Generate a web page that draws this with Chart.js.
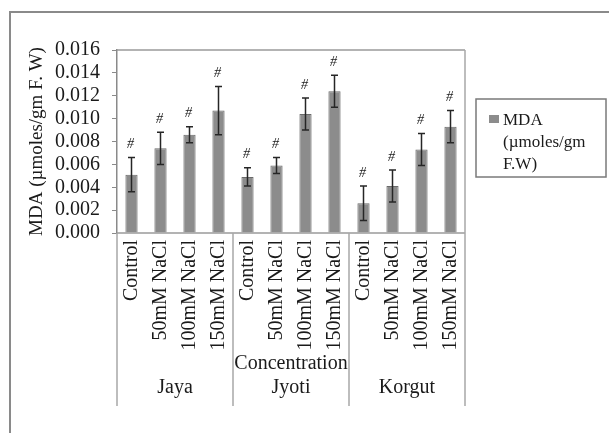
<!DOCTYPE html>
<html>
<head>
<meta charset="utf-8">
<script src="https://cdn.jsdelivr.net/npm/chart.js@4"></script>
<style>
  html, body { margin: 0; padding: 0; background: #fff; }
  #wrap { width: 609px; height: 433px; }
</style>
</head>
<body>
<div id="wrap"><canvas id="mda" width="609" height="433"></canvas></div>
<script>
// varieties and treatments
var groups = ['Jaya', 'Jyoti', 'Korgut'];
var treatments = ['Control', '50mM NaCl', '100mM NaCl', '150mM NaCl'];

// MDA content and error, in group order
var mda = [0.0051, 0.0074, 0.0086, 0.0107,
           0.0049, 0.0059, 0.0104, 0.0124,
           0.0026, 0.0041, 0.0073, 0.0093];
var mdaErr = [0.0015, 0.0014, 0.0007, 0.0021,
              0.0008, 0.0007, 0.0014, 0.0014,
              0.0015, 0.0014, 0.0014, 0.0014];

var yTicks = ['0.000', '0.002', '0.004', '0.006', '0.008', '0.010', '0.012', '0.014', '0.016'];
var legendLines = ['MDA', '(\u00b5moles/gm', 'F.W)'];

var labels = [];
for (const g of groups) {
    for (const t of treatments) labels.push(t);
}

const serif = '"Liberation Serif", "Times New Roman", serif';

const extras = {
    id: 'extras',
    beforeDraw(chart) {
        const c = chart.ctx;
        c.save();
        c.strokeStyle = '#8a8a8a';
        c.lineWidth = 2;
        c.strokeRect(10, 12, 700, 500);
        c.restore();
    },
    afterDatasetsDraw(chart) {
        const c = chart.ctx;
        const y = chart.scales.y;
        const bars = chart.getDatasetMeta(0).data;
        c.save();
        c.strokeStyle = '#262626';
        c.lineWidth = 1.5;
        c.fillStyle = '#222';
        c.font = 'italic 14px ' + serif;
        c.textAlign = 'center';
        c.textBaseline = 'bottom';
        bars.forEach(function(bar, i) {
            const top = y.getPixelForValue(mda[i] + mdaErr[i]);
            const bot = y.getPixelForValue(mda[i] - mdaErr[i]);
            c.beginPath();
            c.moveTo(bar.x, top); c.lineTo(bar.x, bot);
            c.moveTo(bar.x - 3.5, top); c.lineTo(bar.x + 3.5, top);
            c.moveTo(bar.x - 3.5, bot); c.lineTo(bar.x + 3.5, bot);
            c.stroke();
            c.fillText('#', bar.x - 1, top - 6);
        });
        c.restore();
    },
    afterDraw(chart) {
        const c = chart.ctx;
        const a = chart.chartArea;
        const x = chart.scales.x;
        c.save();
        // plot frame
        c.strokeStyle = '#9a9a9a';
        c.lineWidth = 1.5;
        c.beginPath();
        c.moveTo(a.left, a.top); c.lineTo(a.right, a.top);
        c.moveTo(a.left, a.bottom); c.lineTo(a.right, a.bottom);
        c.stroke();
        // group separators running down through the labels
        const n = treatments.length;
        const seps = [a.left];
        for (let g = 1; g < groups.length; g++) {
            seps.push((x.getPixelForTick(g * n - 1) + x.getPixelForTick(g * n)) / 2);
        }
        seps.push(a.right);
        c.strokeStyle = '#a8a8a8';
        c.beginPath();
        seps.forEach(function(sx, i) {
            c.moveTo(sx, i === seps.length - 1 ? a.top : a.bottom);
            c.lineTo(sx, 406);
        });
        c.stroke();
        // axis title and variety names
        c.fillStyle = '#1a1a1a';
        c.textAlign = 'center';
        c.textBaseline = 'middle';
        c.font = '20px ' + serif;
        c.fillText('Concentration', (a.left + a.right) / 2, 364);
        groups.forEach(function(name, g) {
            const cx = (x.getPixelForTick(g * n) + x.getPixelForTick(g * n + n - 1)) / 2;
            c.fillText(name, cx, 388);
        });
        // legend box
        c.strokeStyle = '#7a7a7a';
        c.lineWidth = 1.5;
        c.strokeRect(476, 99, 130, 78);
        c.fillStyle = '#8c8c8c';
        c.fillRect(489, 115, 10, 8);
        c.fillStyle = '#1a1a1a';
        c.textAlign = 'left';
        c.textBaseline = 'alphabetic';
        c.font = '17px ' + serif;
        legendLines.forEach(function(t, i) {
            c.fillText(t, 503, 125 + i * 22);
        });
        c.restore();
    }
};

new Chart(document.getElementById('mda'), {
    type: 'bar',
    data: {
        labels: labels,
        datasets: [{
            label: 'MDA (\u00b5moles/gm F.W)',
            data: mda,
            backgroundColor: '#8c8c8c',
            borderColor: '#6a6a6a',
            borderWidth: 1,
            barPercentage: 0.42,
            categoryPercentage: 1
        }]
    },
    options: {
        responsive: false,
        animation: false,
        layout: { padding: { left: 0, top: 50, right: 144, bottom: 0 } },
        scales: {
            y: {
                min: 0,
                max: 0.016,
                afterFit: function(s) { s.width = 117; },
                ticks: {
                    stepSize: 0.002,
                    autoSkip: false,
                    padding: 12,
                    color: '#1a1a1a',
                    font: { family: serif, size: 20 },
                    callback: function(v, i) { return yTicks[i]; }
                },
                grid: { drawOnChartArea: false, drawTicks: true, tickLength: 5, color: '#8a8a8a' },
                border: { display: true, color: '#8a8a8a', width: 1.5 },
                title: {
                    display: true,
                    text: 'MDA (\u00b5moles/gm F. W)',
                    color: '#1a1a1a',
                    font: { family: serif, size: 19 },
                    padding: { top: 26, bottom: 0 }
                }
            },
            x: {
                afterFit: function(s) { s.height = 200; },
                ticks: {
                    autoSkip: false,
                    minRotation: 90,
                    maxRotation: 90,
                    padding: 7,
                    color: '#1a1a1a',
                    font: { family: serif, size: 20 }
                },
                grid: { display: false, drawTicks: false },
                border: { display: false }
            }
        },
        plugins: {
            legend: { display: false },
            tooltip: { enabled: false }
        }
    },
    plugins: [extras]
});
</script>
</body>
</html>
